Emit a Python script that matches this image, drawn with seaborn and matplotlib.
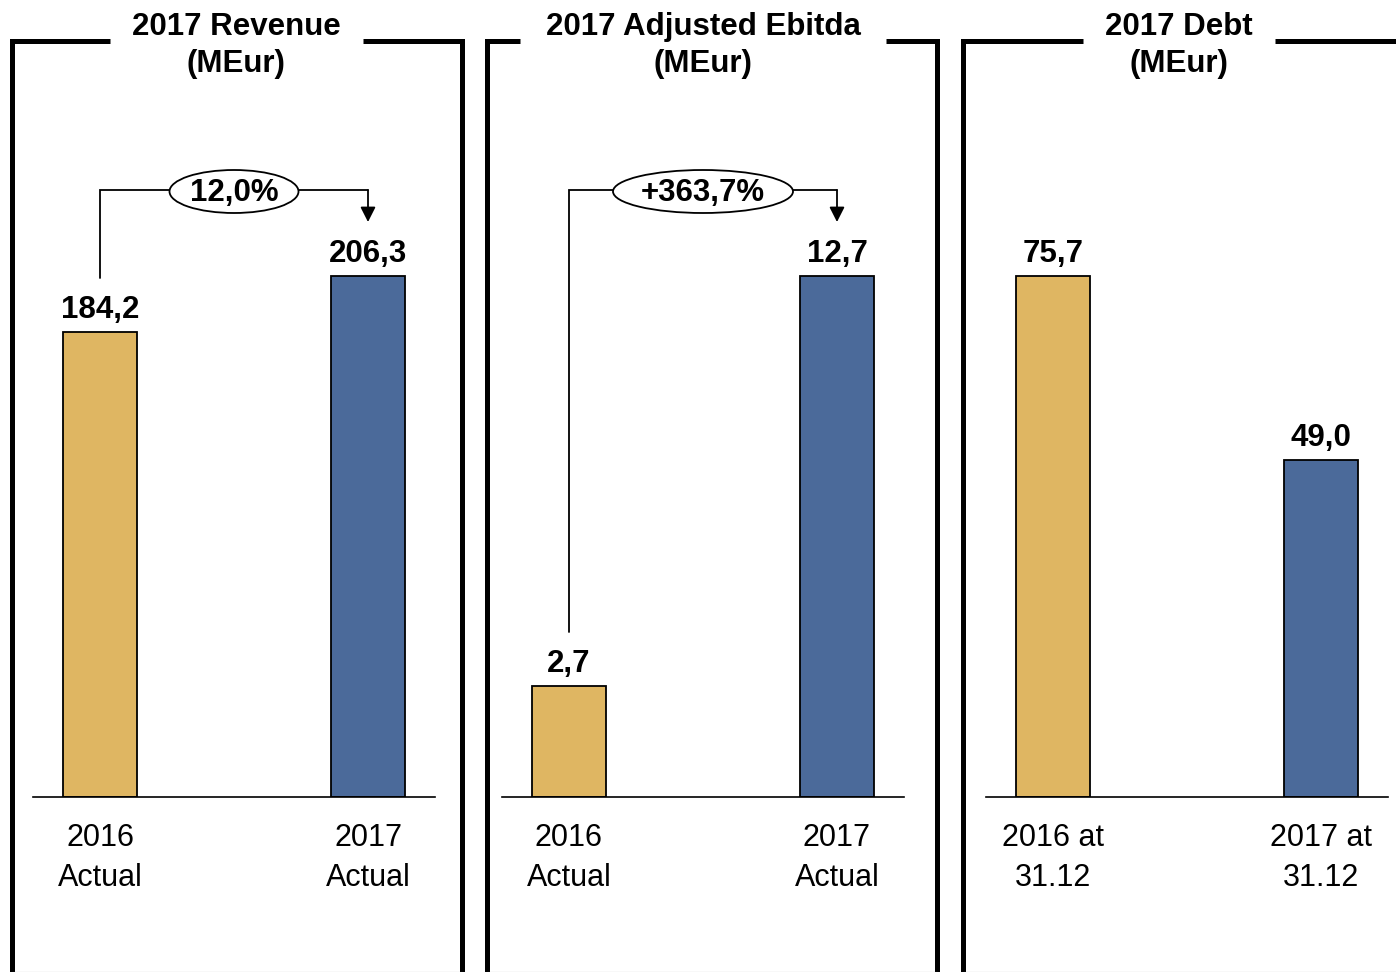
import matplotlib
matplotlib.use("Agg")
import matplotlib.pyplot as plt
import matplotlib.transforms as mtransforms
from matplotlib.lines import Line2D
from matplotlib.patches import Ellipse
import seaborn as sns
import pandas as pd

# ---- data ----
titles = ["2017 Revenue\n(MEur)", "2017 Adjusted Ebitda\n(MEur)", "2017 Debt\n(MEur)"]
categories = [["2016\nActual", "2017\nActual"],
              ["2016\nActual", "2017\nActual"],
              ["2016 at\n31.12", "2017 at\n31.12"]]
values = [[184.2, 206.3], [2.7, 12.7], [75.7, 49.0]]
value_labels = [["184,2", "206,3"], ["2,7", "12,7"], ["75,7", "49,0"]]
growth_labels = ["12,0%", "+363,7%", None]

GOLD = "#DFB662"
BLUE = "#4B6A9A"

sns.set_theme(style="white")
plt.rcParams["font.family"] = ["Liberation Sans", "DejaVu Sans"]

W, H = 1396, 972
fig = plt.figure(figsize=(W / 100, H / 100), dpi=100)


def fx(px):
    return px / W


def fy(py):
    return 1 - py / H


FS = 22.5
ax_left = [33, 502, 986]
ax_w = 402
ax_bottom = 797
ax_top = 150
TOPFAC = (ax_bottom - ax_top) / 521.0  # px of max bar is 521

frames = [(12, 462, 110, 363, 236), (487, 937, 520, 886, 703), (963, 1420, 1083, 1275, 1179)]
FRAME_LW = 5 * 72 / 100

for i in range(3):
    ax = fig.add_axes([fx(ax_left[i]), fy(ax_bottom), ax_w / W, (ax_bottom - ax_top) / H])
    df = pd.DataFrame({"cat": categories[i], "val": values[i]})
    sns.barplot(data=df, x="cat", y="val", hue="cat", palette=[GOLD, BLUE],
                width=0.276, edgecolor="black", linewidth=1.3, legend=False, ax=ax,
                saturation=1)
    vmax = max(values[i])
    ax.set_xlim(-0.25, 1.25)
    ax.set_ylim(0, vmax * TOPFAC)
    ax.set_xlabel("")
    ax.set_ylabel("")
    ax.set_yticks([])
    for s in ["top", "left", "right"]:
        ax.spines[s].set_visible(False)
    ax.spines["bottom"].set_color("black")
    ax.spines["bottom"].set_linewidth(1.2)
    ax.tick_params(axis="x", length=0, pad=19, labelsize=FS - 0.5)
    for lbl in ax.get_xticklabels():
        lbl.set_linespacing(1.42)
        lbl.set_color("black")
    ax.patch.set_alpha(0)

    # value labels
    for j, v in enumerate(values[i]):
        ax.annotate(value_labels[i][j], xy=(j, v), xytext=(0, 16), textcoords="offset points",
                    ha="center", va="center", fontsize=FS, fontweight="bold", color="black")

    # growth bracket
    if growth_labels[i] is not None:
        ppx = vmax / 521.0  # data units per px
        y_start = values[i][0] + 54 * ppx
        level = vmax * (797 - 190) / 521.0
        tip = vmax * (797 - 222) / 521.0
        ax.plot([0, 0, 1, 1], [y_start, level, level, level], color="black", lw=1.3,
                clip_on=False, solid_joinstyle="miter")
        ax.annotate("", xy=(1, tip), xytext=(1, level),
                    arrowprops=dict(arrowstyle="-|>,head_length=0.75,head_width=0.38",
                                    color="black", lw=1.3, shrinkA=0, shrinkB=0),
                    annotation_clip=False)
        ew = 129 if i == 0 else 180
        trans = fig.dpi_scale_trans + mtransforms.ScaledTranslation(0.5, level, ax.transData)
        ell = Ellipse((0, -1.5 / 100), ew / 100, 43 / 100, transform=trans,
                      facecolor="white", edgecolor="black", lw=1.3, clip_on=False, zorder=5)
        ax.add_artist(ell)
        ax.annotate(growth_labels[i], xy=(0.5, level), xytext=(0, -2), textcoords="offset points",
                    ha="center", va="center", fontsize=FS, fontweight="bold", color="black",
                    zorder=6, annotation_clip=False)

    # frame
    L, R, g1, g2, cx = frames[i]
    fig.add_artist(Line2D([fx(g1), fx(L), fx(L)], [fy(41), fy(41), fy(985)],
                          transform=fig.transFigure, color="black", lw=FRAME_LW,
                          solid_joinstyle="miter", solid_capstyle="butt"))
    fig.add_artist(Line2D([fx(g2), fx(R), fx(R)], [fy(41), fy(41), fy(985)],
                          transform=fig.transFigure, color="black", lw=FRAME_LW,
                          solid_joinstyle="miter", solid_capstyle="butt"))
    fig.add_artist(Line2D([fx(L), fx(R)], [fy(971.5), fy(971.5)],
                          transform=fig.transFigure, color="#808080", lw=0.8))
    fig.text(fx(cx), fy(45.5), titles[i], ha="center", va="center", fontsize=FS,
             fontweight="bold", color="black", linespacing=1.33)

fig.savefig("out.png", dpi=100, facecolor="white")
